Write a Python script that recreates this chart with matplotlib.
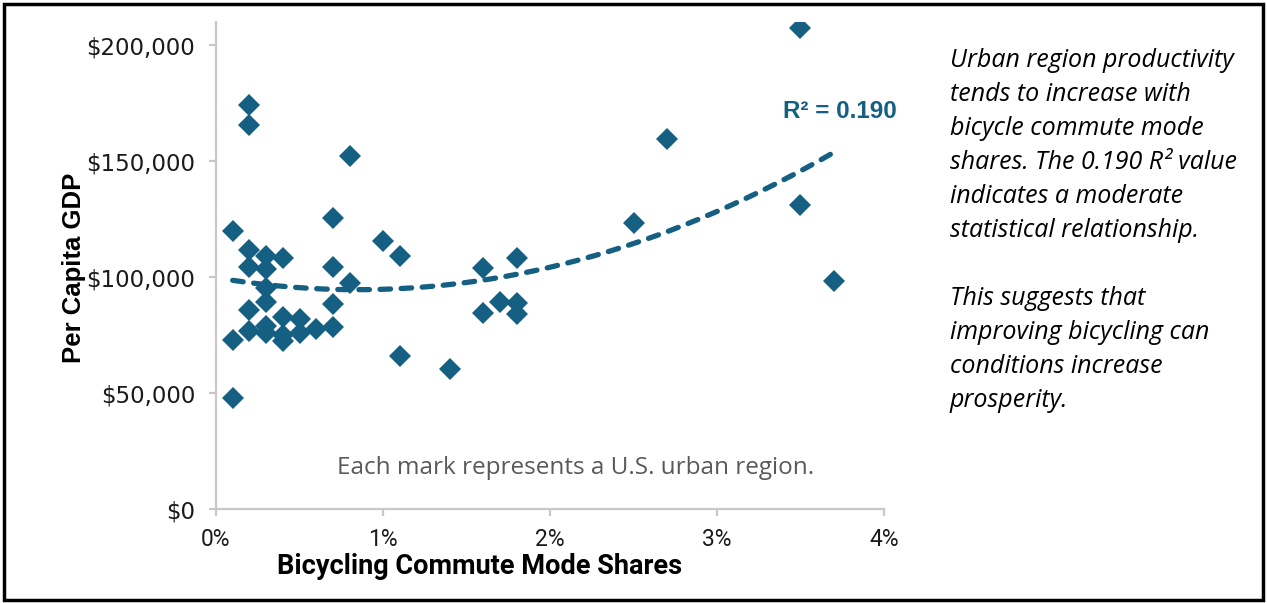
import numpy as np
import matplotlib
matplotlib.use("Agg")
import matplotlib.pyplot as plt
from matplotlib.patches import Rectangle
from matplotlib.ticker import FuncFormatter

# ---- data (bicycle commute share in %, per capita GDP in $) ----
bike_share = [0.1, 0.1, 0.1,
              0.2, 0.2, 0.2, 0.2, 0.2, 0.2,
              0.3, 0.3, 0.3, 0.3, 0.3, 0.3,
              0.4, 0.4, 0.4, 0.4,
              0.5, 0.5, 0.6,
              0.7, 0.7, 0.7, 0.7,
              0.8, 0.8,
              1.0, 1.1, 1.1, 1.4,
              1.6, 1.6, 1.7, 1.8, 1.8, 1.8,
              2.5, 2.7, 3.5, 3.5, 3.7]
gdp = [120000, 73000, 47700,
       174000, 165500, 111500, 104500, 85800, 76900,
       109000, 103700, 95100, 89100, 78900, 76000,
       108300, 82600, 75000, 72500,
       81900, 75700, 77600,
       125300, 104400, 88600, 78600,
       152300, 97500,
       115600, 109300, 65900, 60500,
       104000, 84600, 89300, 108300, 88900, 84300,
       123400, 159500, 207600, 131000, 98400]

x_ticks = [0, 1, 2, 3, 4]
y_ticks = [0, 50000, 100000, 150000, 200000]
r2_label = "R² = 0.190"
x_title = "Bicycling Commute Mode Shares"
y_title = "Per Capita GDP"
note = "Each mark represents a U.S. urban region."
side_lines = ["Urban region productivity",
              "tends to increase with",
              "bicycle commute mode",
              "shares. The 0.190 R² value",
              "indicates a moderate",
              "statistical relationship.",
              "",
              "This suggests that",
              "improving bicycling can",
              "conditions increase",
              "prosperity."]

TEAL = "#156082"
W, H = 1267, 603

fig = plt.figure(figsize=(W / 100, H / 100), dpi=100)
fig.patch.set_facecolor("white")

ax = fig.add_axes([216 / W, 1 - 509 / H, (884 - 216) / W, (509 - 22) / H])
ax.set_xlim(0, 4)
ax.set_ylim(0, 210000)

ax.plot(bike_share, gdp, linestyle="none", marker="D", markersize=11,
        color=TEAL, markeredgewidth=0, zorder=3)

# order-2 polynomial trend line (as in the spreadsheet trendline)
coef = np.polyfit(bike_share, gdp, 2)
xs = np.linspace(min(bike_share), max(bike_share), 200)
ax.plot(xs, np.polyval(coef, xs), color=TEAL, lw=3.8,
        linestyle=(0, (2.0, 2.0)), dash_capstyle="round", zorder=2)

for s in ["top", "right"]:
    ax.spines[s].set_visible(False)
for s in ["left", "bottom"]:
    ax.spines[s].set_color("#C8C8C8")
    ax.spines[s].set_linewidth(1.6)

ax.set_xticks(x_ticks)
ax.set_yticks(y_ticks)
ax.xaxis.set_major_formatter(FuncFormatter(lambda v, p: f"{v:.0f}%"))
ax.yaxis.set_major_formatter(FuncFormatter(lambda v, p: f"${v:,.0f}"))
ax.tick_params(axis="both", direction="out", length=5, width=1.6, color="#C8C8C8")
ax.tick_params(axis="y", pad=10, labelsize=16.5, labelcolor="#1A1A1A")
ax.tick_params(axis="x", pad=9, labelsize=16.5, labelcolor="#1A1A1A")
for lab in ax.get_yticklabels():
    lab.set_family(["DejaVu Sans"])
for lab in ax.get_xticklabels():
    lab.set_family(["Roboto"])

fig.text(480 / W, 1 - 566 / H, x_title, ha="center", va="center",
         fontsize=19.5, fontweight="bold", color="black", family=["Roboto"])
fig.text(74 / W, 1 - 268 / H, y_title, ha="center", va="center", rotation=90,
         fontsize=18.5, fontweight="bold", color="black", family=["Liberation Sans"])

ax.text((576 - 216) / 668, (509 - 468) / 487, note, transform=ax.transAxes,
        ha="center", va="center", fontsize=17.5, color="#595959", family=["Open Sans"])
ax.text((840 - 216) / 668, (509 - 112) / 487, r2_label, transform=ax.transAxes,
        ha="center", va="center", fontsize=17.5, fontweight="bold", color=TEAL,
        family=["Liberation Sans", "DejaVu Sans"])

for i, line in enumerate(side_lines):
    if line:
        fig.text(950 / W, 1 - (67 + 34 * i) / H, line, ha="left", va="baseline",
                 fontsize=18, style="italic", color="black", family=["Open Sans"])

fig.patches.append(Rectangle((4 / W, 3 / H), (1263 - 4) / W, (598 - 2) / H,
                             transform=fig.transFigure, fill=False,
                             edgecolor="black", linewidth=2.5))

fig.savefig("out.png", dpi=100)
